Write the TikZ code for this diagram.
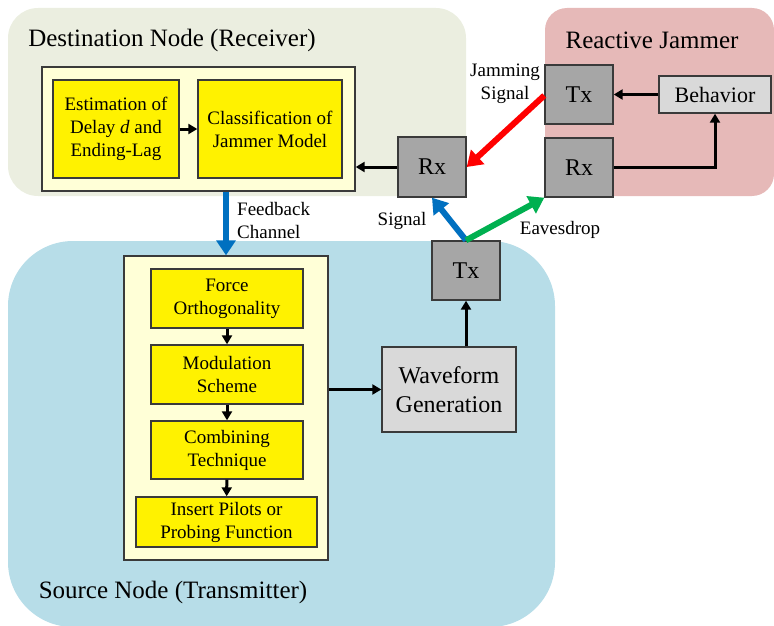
\documentclass[tikz,border=0pt]{standalone}
\usepackage{fontspec}
\setmainfont{Liberation Serif}
\usetikzlibrary{arrows.meta,calc}

\definecolor{destbg}{HTML}{EBEEE0}
\definecolor{jambg}{HTML}{E6B9B8}
\definecolor{srcbg}{HTML}{B7DDE8}
\definecolor{cream}{HTML}{FFFFD7}
\definecolor{boxgray}{HTML}{A6A6A6}
\definecolor{lightgray}{HTML}{D9D9D9}
\definecolor{edge}{HTML}{3A3A3A}
\definecolor{fbblue}{HTML}{0070C0}
\definecolor{jamred}{HTML}{FF0000}
\definecolor{evgreen}{HTML}{00B050}

\tikzset{
  region/.style={draw=none, rounded corners=#1},
  panel/.style={draw=edge, line width=1.4pt, fill=cream, inner sep=0pt},
  yellowbox/.style={draw=edge, line width=1.4pt, fill=yellow, inner sep=0pt,
    align=center, font=\fontsize{19}{23}\selectfont},
  radio/.style={draw=edge, line width=1.4pt, fill=boxgray, inner sep=0pt,
    minimum width=68pt, font=\fontsize{24}{28}\selectfont},
  graybox/.style={draw=edge, line width=1.4pt, fill=lightgray, inner sep=0pt, align=center},
  title/.style={font=\fontsize{25}{30}\selectfont, inner sep=0pt},
  tag/.style={font=\fontsize{19}{23}\selectfont, inner sep=0pt},
  flow/.style={line width=3pt, -{Triangle[length=9pt,width=10pt]}},
  wide/.style={line width=6pt, -{Triangle[length=15pt,width=19pt]}},
}

\begin{document}
\begin{tikzpicture}[x=1pt, y=-1pt]
\useasboundingbox (0,0) rectangle (774,626);

% background regions
\fill[region=30pt, destbg] (8,8) rectangle (466,196);
\fill[region=22pt, jambg] (545,8) rectangle (774,196);
\fill[region=65pt, srcbg] (8,241) rectangle (555,627);

% region titles
\node[title] (tdest) at (172,40) {Destination Node (Receiver)};
\node[title] (tjam) at (652,40) {Reactive Jammer};
\node[title] (tsrc) at (173,592) {Source Node (Transmitter)};

% destination node
\node[panel, minimum width=313pt, minimum height=124pt] (dpanel) at (198.5,129) {};
\node[yellowbox, minimum width=126pt, minimum height=98pt] (est) at (116,129)
  {Estimation of\\Delay \textit{d} and\\Ending-Lag};
\node[yellowbox, minimum width=144pt, minimum height=98pt] (cls) at (270,129)
  {Classification of\\Jammer Model};
\node[radio, minimum height=60pt] (rxd) at (432,167) {Rx};

% reactive jammer
\node[radio, minimum height=59pt] (jtx) at (579,94.5) {Tx};
\node[radio, minimum height=59pt] (jrx) at (579,167.5) {Rx};
\node[graybox, minimum width=112pt, minimum height=37pt,
  font=\fontsize{22}{26}\selectfont] (beh) at (715,94.5) {Behavior};

% source node
\node[panel, minimum width=204pt, minimum height=304pt] (spanel) at (226,408) {};
\node[yellowbox, minimum width=152pt, minimum height=59pt] (force) at (227,298.5)
  {Force\\Orthogonality};
\node[yellowbox, minimum width=152pt, minimum height=59pt] (mod) at (227,374.5)
  {Modulation\\Scheme};
\node[yellowbox, minimum width=152pt, minimum height=58pt] (comb) at (227,450)
  {Combining\\Technique};
\node[yellowbox, minimum width=181pt, minimum height=50pt] (ins) at (226.5,522)
  {Insert Pilots or\\Probing Function};
\node[graybox, minimum width=134pt, minimum height=85pt,
  font=\fontsize{24}{29}\selectfont] (wave) at (449,389.5) {Waveform\\Generation};
\node[radio, minimum height=59pt] (stx) at (466,270.5) {Tx};

% black flow connectors
\draw[flow] (est) -- (cls);
\draw[flow] (rxd.west) -- (rxd.west -| dpanel.east);
\draw[flow] (beh) -- (jtx);
\draw[flow] (jrx.east) -| (beh.south);
\draw[flow] (force) -- (mod);
\draw[flow] (mod) -- (comb);
\draw[flow] (comb) -- (ins);
\draw[flow] (spanel.east |- wave.west) -- (wave.west);
\draw[flow] (stx.south |- wave.north) -- (stx.south);

% wireless links and feedback
\draw[wide, fbblue] (spanel.north |- dpanel.south) -- (spanel.north);
\draw[wide, jamred] ([yshift=-1pt]jtx.west) -- (rxd.east);
\draw[wide, fbblue] (stx.north) -- (rxd.south);
\draw[wide, evgreen] (stx.north) -- (jrx.south west);

% link labels
\node[tag, align=center] (ljam) at (505,84) {Jamming\\Signal};
\node[tag] (lsig) at (402,221) {Signal};
\node[tag] (leav) at (560,230) {Eavesdrop};
\node[tag, align=left, anchor=west] (lfb) at (237,220) {Feedback\\Channel};
\end{tikzpicture}
\end{document}
